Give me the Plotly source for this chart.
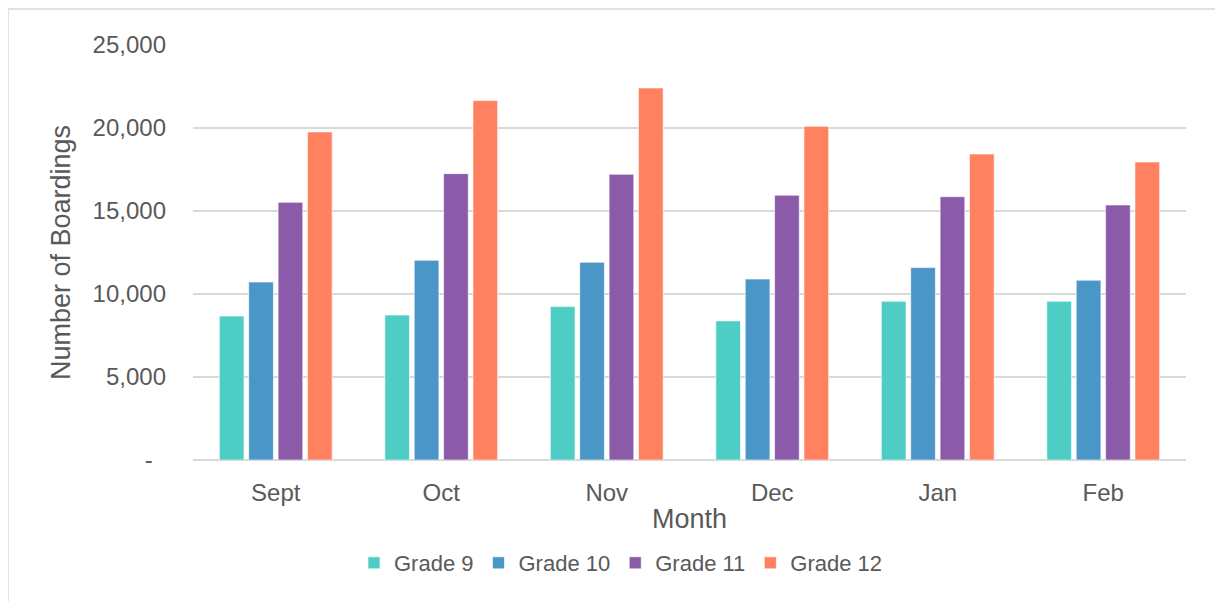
import plotly.graph_objs as go

# Data
months = ['Sept', 'Oct', 'Nov', 'Dec', 'Jan', 'Feb']
grade_9 = [8670, 8730, 9240, 8380, 9560, 9560]
grade_10 = [10720, 12030, 11910, 10900, 11590, 10830]
grade_11 = [15520, 17250, 17210, 15950, 15860, 15360]
grade_12 = [19760, 21650, 22410, 20100, 18430, 17950]

y_ticks = [0, 5000, 10000, 15000, 20000, 25000]
y_tick_labels = ['-\u00a0\u00a0', '5,000', '10,000', '15,000', '20,000', '25,000']

series = [
    ('Grade 9', grade_9, '#4ECDC4'),
    ('Grade 10', grade_10, '#4A96C6'),
    ('Grade 11', grade_11, '#8B5BAA'),
    ('Grade 12', grade_12, '#FF815F'),
]

font_color = '#595959'
grid_color = '#D9D9D9'

# Build traces
data = []
for name, values, color in series:
    trace = go.Bar(name=name, x=months, y=values, marker_color=color,
                   marker_line={'color': 'rgba(255,255,255,0.6)', 'width': 1})
    data.append(trace)

# The page body adds an 8px offset, so the figure is a bit smaller than the window
OFF = 8
W, H = 1223 - OFF, 601 - OFF
ml, mt = 193 - OFF, 45 - OFF
mr = W - (1186 - OFF)
mb = H - (460 - OFF)
pw, ph = W - ml - mr, H - mt - mb

layout = {
    "width": W,
    "height": H,
    "margin": dict(l=ml, r=mr, t=mt, b=mb),
    "plot_bgcolor": 'white',
    "paper_bgcolor": 'white',
    "font": dict(family='Liberation Sans, Arial, sans-serif', color=font_color),
    "barmode": 'group',
    "bargap": 0.29,
    "bargroupgap": 0.16,
    "showlegend": True,
    "legend": dict(orientation='h', x=(621 - OFF - ml) / pw, xanchor='center',
                   y=(ph - (563 - OFF - mt)) / ph, yanchor='middle',
                   font=dict(size=22), itemwidth=30, traceorder='normal'),
}

fig = go.Figure(data=data, layout=layout)
fig.update_xaxes(title=dict(text='Month', font=dict(size=27), standoff=4),
                 tickfont=dict(size=24), ticklabelstandoff=16,
                 showline=False, ticks='')
fig.update_yaxes(title=dict(text='Number of Boardings', font=dict(size=27), standoff=14),
                 range=[0, 25000], tickvals=y_ticks, ticktext=y_tick_labels,
                 tickfont=dict(size=24), ticklabelstandoff=26,
                 gridcolor=grid_color, gridwidth=1.5,
                 zeroline=True, zerolinecolor=grid_color, zerolinewidth=1.5)

# Light outer chart frame (top and left edges)
x_left = (8 - OFF - ml) / pw
x_right = (W - ml) / pw
y_top = (ph - (9 - OFF - mt)) / ph
y_bottom = (ph - (H - mt)) / ph
fig.add_shape(type='line', xref='paper', yref='paper', x0=x_left, x1=x_right,
              y0=y_top, y1=y_top, line=dict(color=grid_color, width=1.5))
fig.add_shape(type='line', xref='paper', yref='paper', x0=x_left, x1=x_left,
              y0=y_top, y1=y_bottom, line=dict(color=grid_color, width=1.5))

fig.write_html("out.html")
